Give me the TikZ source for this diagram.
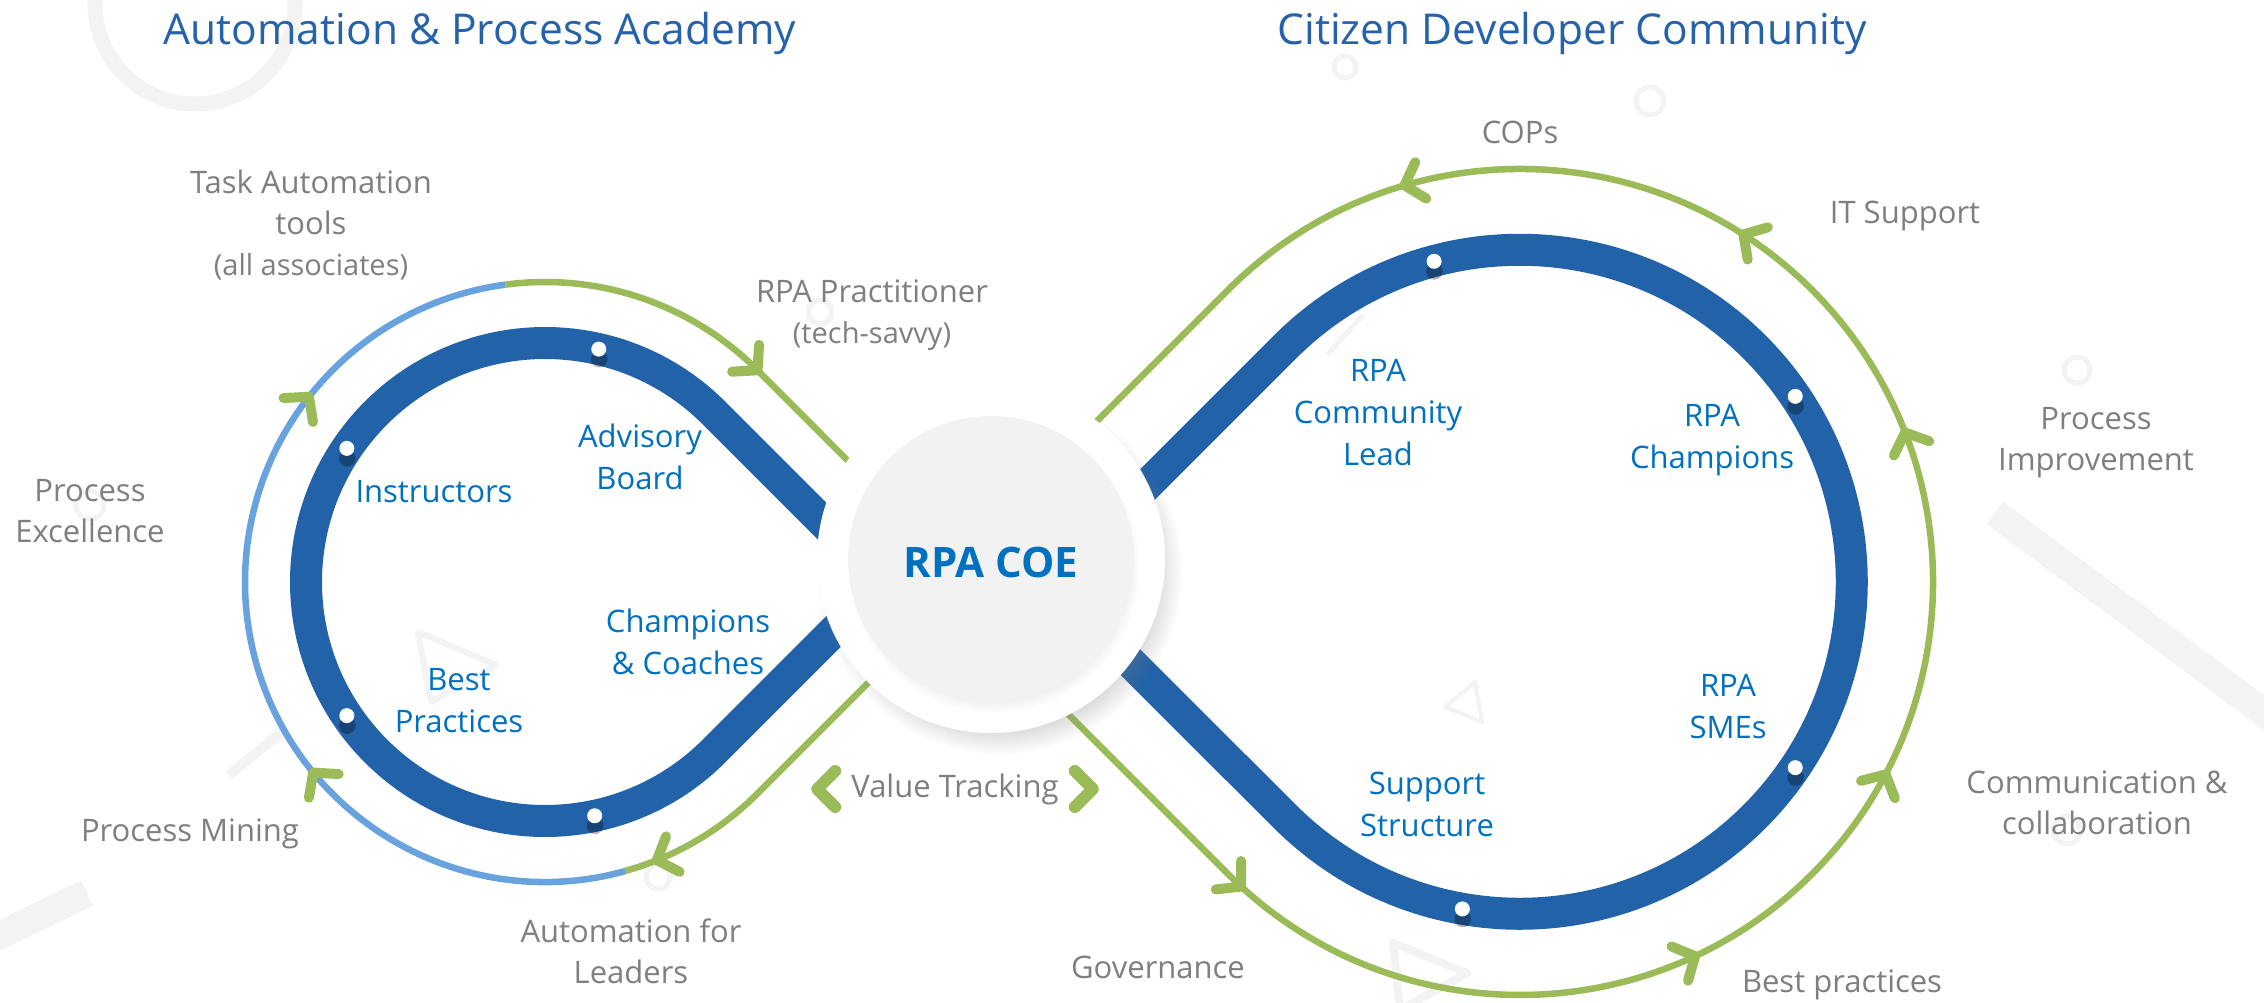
\documentclass[tikz,border=0pt]{standalone}
\usepackage{fontspec}
\setmainfont{Open Sans}
\usepackage{tikz}
\usetikzlibrary{arrows.meta}
\usetikzlibrary{decorations.markings}
\usetikzlibrary{shadows}
\usetikzlibrary{fadings}

\definecolor{bandblue}{RGB}{33,98,168}
\definecolor{ringgreen}{RGB}{155,187,89}
\definecolor{ringblue}{RGB}{104,163,224}
\definecolor{labelblue}{RGB}{0,112,192}
\definecolor{labelgrey}{RGB}{127,127,127}
\definecolor{titleblue}{RGB}{38,98,171}
\definecolor{coegrey}{RGB}{242,242,242}
\definecolor{decor}{RGB}{243,243,243}

\begin{document}
\begin{tikzpicture}[x=1pt,y=-1pt,
  band/.style={draw=bandblue,line width=32pt},
  ring/.style={draw=ringgreen,line width=6.5pt},
  ring tip/.tip={Straight Barb[length=17pt,width=38pt,line width=10pt,round,color=ringgreen]},
  flow/.style={postaction={decorate,decoration={markings,mark=at position #1 with {\arrow{ring tip}}}}},
  dot/.style={circle,fill=white,minimum size=15pt,inner sep=0pt,
    circular drop shadow={shadow xshift=0pt,shadow yshift=-8pt,shadow scale=1.2,fill=black,opacity=.3}},
  hub/.style={circle,fill=white,minimum size=348pt,inner sep=0pt,
    circular drop shadow={shadow xshift=8pt,shadow yshift=-12pt,shadow scale=1.05,opacity=.3}},
  coe/.style={circle,fill=coegrey,minimum size=286pt,inner sep=0pt,text=labelblue,
    font=\fontsize{42}{50}\selectfont\bfseries,text height=36pt,text depth=0pt,
    circular drop shadow={shadow xshift=3pt,shadow yshift=-8pt,shadow scale=1.02,opacity=.2}},
  title/.style={text=titleblue,font=\fontsize{42.5}{50}\selectfont,inner sep=0pt},
  grey label/.style={text=labelgrey,font=\fontsize{31}{41}\selectfont,align=center,inner sep=0pt},
  blue label/.style={text=labelblue,font=\fontsize{31}{42}\selectfont,align=center,inner sep=0pt},
  chevron/.style={draw=ringgreen,line width=12pt,line cap=round,line join=round},
  deco/.style={draw=decor,line width=#1}]

  \useasboundingbox (0,0) rectangle (2264,1003);
  \fill[white] (0,0) rectangle (2264,1003);

  \draw[deco=15] (195,4) circle[radius=100];
  \draw[deco=28] (-10,940) -- (87,893);
  \draw[deco=28] (1995,513) -- (2290,732);
  \draw[deco=10] (229,775) -- (282,732);
  \draw[deco=5] (1327,355) -- (1363,315);
  \draw[deco=6,line join=round] (418,632) -- (496,665) -- (431,702) -- cycle;
  \draw[deco=4,line join=round] (1475,682) -- (1445,707) -- (1482,722) -- cycle;
  \draw[deco=8,line join=round] (1393,943) -- (1467,973) -- (1400,1010) -- cycle;
  \foreach \x/\y/\r in {1345/67/11,1650/101/14,2077/370/13,90/505/14,658/877/12,820/312/12,2067/830/14}
    \draw[deco=5] (\x,\y) circle[radius=\r];

  \coordinate (leftc) at (545,582);
  \coordinate (rightc) at (1520,582);

  \draw[ring,flow=328pt] (900,651) -- (757,794) arc[start angle=45,end angle=74.5,radius=300];
  \draw[ring,draw=ringblue,flow=351pt,flow=757pt] (leftc) ++(74.5:300) arc[start angle=74.5,end angle=262.4,radius=300];
  \draw[ring,flow=281pt] (leftc) ++(262.4:300) arc[start angle=262.4,end angle=315,radius=300] -- (900,513);
  \draw[ring,flow=289pt,flow=776pt,flow=1044pt,flow=1397pt,flow=1657pt,flow=2010pt]
    (1040,686) -- (1228,874) arc[start angle=135,end angle=-135,radius=413] -- (1080,438);

  \draw[band] (900,599) -- (714,413) arc[start angle=-45,end angle=-315,radius=239] -- (900,565);
  \draw[band] (1080,552) -- (1285,347) arc[start angle=225,end angle=495,radius=332] -- (1080,612);

  \foreach \a [count=\i] in {78,146,214,283}
    \node[dot] (ldot\i) at ([shift={(\a:239)}]leftc) {};
  \foreach \a [count=\i] in {34,100,255,326}
    \node[dot] (rdot\i) at ([shift={(\a:332)}]rightc) {};

  \node[hub] (hub) at (991,559) {};
  \node[coe] (coe) at (hub) {RPA COE};

  \node[title] (academy) at (480,33) {Automation \& Process Academy};
  \node[title] (community) at (1572,33) {Citizen Developer Community};

  \node[grey label] (taskauto) at (311,225) {Task Automation\\tools\\{\fontsize{29}{41}\selectfont(all associates)}};
  \node[grey label] (practitioner) at (872,315) {RPA Practitioner\\{\fontsize{29}{41}\selectfont(tech-savvy)}};
  \node[grey label] (excellence) at (90,511) {Process\\Excellence};
  \node[grey label] (mining) at (190,834) {Process Mining};
  \node[grey label] (leaders) at (631,951) {Automation for\\Leaders};
  \node[grey label] (valtrack) at (955,789) {Value Tracking};
  \node[grey label] (governance) at (1158,967) {Governance};
  \node[grey label] (bestpract) at (1842,985) {Best practices};
  \node[grey label] (commcollab) at (2097,803) {Communication \&\\collaboration};
  \node[grey label] (improvement) at (2096,443) {Process\\Improvement};
  \node[grey label] (itsupport) at (1905,216) {IT Support};
  \node[grey label] (cops) at (1520,132) {COPs};

  \node[blue label] (advisory) at (640,457) {Advisory\\Board};
  \node[blue label] (instructors) at (434,492) {Instructors};
  \node[blue label] (bestpractices) at (459,701) {Best\\Practices};
  \node[blue label] (champcoach) at (688,642) {Champions\\\& Coaches};
  \node[blue label] (commlead) at (1378,413) {RPA\\Community\\Lead};
  \node[blue label] (rpachamp) at (1712,440) {RPA\\Champions};
  \node[blue label] (smes) at (1728,707) {RPA\\SMEs};
  \node[blue label] (support) at (1427,804) {Support\\Structure};

  \draw[chevron] ([shift={(-16,-18)}]valtrack.west) -- ([shift={(-34,0)}]valtrack.west) -- ([shift={(-16,18)}]valtrack.west);
  \draw[chevron] ([shift={(16,-18)}]valtrack.east) -- ([shift={(34,0)}]valtrack.east) -- ([shift={(16,18)}]valtrack.east);
\end{tikzpicture}
\end{document}
